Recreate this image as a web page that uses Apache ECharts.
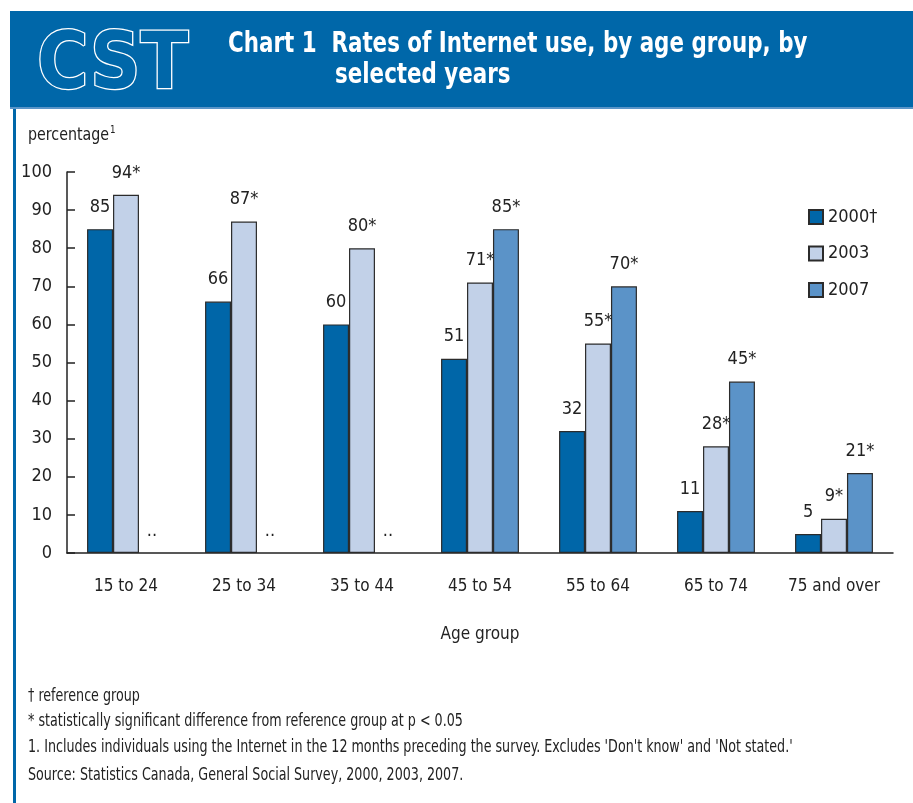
<!DOCTYPE html>
<html>
<head>
<meta charset="utf-8">
<script src="https://cdn.jsdelivr.net/npm/echarts@6/dist/echarts.min.js"></script>
<style>
html,body{margin:0;padding:0;background:#fff;}
#chart{width:913px;height:803px;}
</style>
</head>
<body>
<div id="chart"></div>
<script>
var categories = ['15 to 24','25 to 34','35 to 44','45 to 54','55 to 64','65 to 74','75 and over'];
var seriesNames = ['2000\u2020','2003','2007'];
var values2000 = [85,66,60,51,32,11,5];
var values2003 = [94,87,80,71,55,28,9];
var values2007 = [0,0,0,85,70,45,21];
var labels2000 = ['85','66','60','51','32','11','5'];
var labels2003 = ['94*','87*','80*','71*','55*','28*','9*'];
var labels2007 = ['..','..','..','85*','70*','45*','21*'];
var yTicks = [0,10,20,30,40,50,60,70,80,90,100];
var footnotes = [
  '\u2020 reference group',
  '* statistically significant difference from reference group at p < 0.05',
  "1. Includes individuals using the Internet in the 12 months preceding the survey. Excludes 'Don't know' and 'Not stated.'",
  'Source: Statistics Canada, General Social Survey, 2000, 2003, 2007.'
];

var FONT = "'Liberation Sans Narrow','DejaVu Sans Condensed',sans-serif";
var BLUE = '#0067A9';
var colors = ['#0066A8','#C2D1E8','#5B93C8'];

function mkData(vals, labs){
  return vals.map(function(v,i){
    var d = {value:v, label:{formatter:labs[i]}};
    if(labs[i]==='..'){ d.itemStyle = {borderWidth:0, color:'transparent'}; }
    return d;
  });
}
var valueSets = [values2000, values2003, values2007];
var labelSets = [labels2000, labels2003, labels2007];

var chart = echarts.init(document.getElementById('chart'));
var series = seriesNames.map(function(n,k){
  return {
    name:n, type:'bar', barGap:'0%', barCategoryGap:'34%',
    data: mkData(valueSets[k], labelSets[k]),
    itemStyle:{color:colors[k], borderColor:'#2b2b2b', borderWidth:1.2},
    label:{show:true, position:'top', distance:13, color:'#222', fontFamily:FONT, fontSize:18},
    emphasis:{disabled:true}
  };
});

var graphics = [
  {type:'rect', shape:{x:10,y:11,width:903,height:96}, style:{fill:BLUE}, z:1},
  {type:'rect', shape:{x:10,y:107,width:903,height:2}, style:{fill:'#5A95C8'}, z:1},
  {type:'rect', shape:{x:13,y:109,width:3,height:694}, style:{fill:BLUE}, z:1},
  {type:'text', x:37, y:68, style:{text:'CST', font:"bold 78px "+FONT, fill:BLUE, stroke:'#fff', lineWidth:2.5, textVerticalAlign:'middle', textAlign:'left'}, z:2},
  {type:'text', x:228, y:45, scaleX:0.85, style:{text:'Chart 1  Rates of Internet use, by age group, by', font:"bold 28px "+FONT, fill:'#fff', textVerticalAlign:'middle'}, z:2},
  {type:'text', x:335, y:76, scaleX:0.85, style:{text:'selected years', font:"bold 28px "+FONT, fill:'#fff', textVerticalAlign:'middle'}, z:2},
  {type:'text', x:28, y:135, scaleX:0.88, style:{text:'{a|percentage}{s|1}', rich:{a:{fontFamily:FONT,fontSize:18,fill:'#222'}, s:{fontFamily:FONT,fontSize:11,fill:'#222',padding:[0,0,10,1]}}, textVerticalAlign:'middle'}, z:2}
];
var fy = [697,722,748,776];
footnotes.forEach(function(t,i){
  graphics.push({type:'text', x:28, y:fy[i], scaleX:0.83, style:{text:t, font:"17px "+FONT, fill:'#222', textVerticalAlign:'middle'}, z:2});
});

chart.setOption({
  animation:false,
  backgroundColor:'#fff',
  grid:{left:67, right:20, top:172, bottom:250, containLabel:false},
  legend:{
    orient:'vertical', left:803, top:203, itemWidth:14, itemHeight:14, itemGap:18.5, icon:'rect',
    data:seriesNames, textStyle:{fontFamily:FONT, fontSize:18, color:'#222'}, selectedMode:false
  },
  xAxis:{
    type:'category', data:categories,
    name:'Age group', nameLocation:'middle', nameGap:73,
    nameTextStyle:{fontFamily:FONT, fontSize:17, color:'#222'},
    axisLine:{lineStyle:{color:'#222', width:1.5}},
    axisTick:{show:false},
    axisLabel:{fontFamily:FONT, fontSize:17, color:'#222', margin:25, interval:0},
  },
  yAxis:{
    type:'value', min:yTicks[0], max:yTicks[yTicks.length-1], interval:yTicks[1]-yTicks[0],
    axisLine:{show:true, lineStyle:{color:'#222', width:1.5}},
    axisTick:{show:true, inside:true, length:8, lineStyle:{color:'#222', width:1.5}},
    splitLine:{show:false},
    axisLabel:{fontFamily:FONT, fontSize:18, color:'#222', margin:15}
  },
  series:series,
  graphic:graphics
});
</script>
</body>
</html>
